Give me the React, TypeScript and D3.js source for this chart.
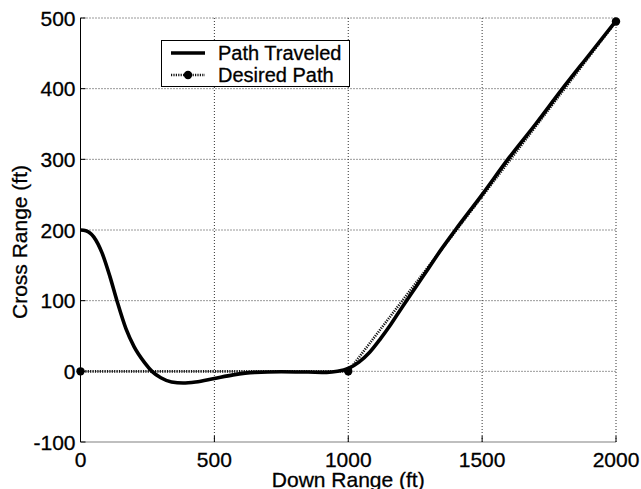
import React from "react";
import * as d3 from "d3";

const W = 641;
const H = 489;

// Down range (ft) vs cross range (ft) of the traveled path
const traveledX = [0, 20, 50, 80, 110, 136, 170, 200, 240, 267, 300, 340, 383, 430, 500, 570, 650, 750, 850, 920, 960, 1000, 1040, 1080, 1120, 1160, 1200, 1250, 1300, 1350, 1400, 1500, 1600, 1700, 1800, 1900, 2000];
const traveledY = [200, 199, 190, 168, 134, 100, 60, 35, 12, 0, -9, -15, -16.5, -15, -10, -5, -1.5, -0.5, -1, -1.5, 0, 4, 13, 27, 46, 67, 90, 118, 146, 174, 200, 250, 302, 350, 400, 448, 496];

// Desired path waypoints
const desiredX = [0, 1000, 2000];
const desiredY = [0, 0, 495];

const xTicks = [0, 500, 1000, 1500, 2000];
const yTicks = [-100, 0, 100, 200, 300, 400, 500];

const legendLabels = ["Path Traveled", "Desired Path"];

const FONT = "'Liberation Sans', Arial, Helvetica, sans-serif";
const textStyle = { fontFamily: FONT, fill: "#000", stroke: "#000", strokeWidth: 0.3 };

export default function App() {
  const left = 80.5;
  const right = 616;
  const top = 18;
  const bottom = 442;

  const x = d3.scaleLinear().domain([0, 2000]).range([left, right]);
  const y = d3.scaleLinear().domain([-100, 500]).range([bottom, top]);

  const traveled = traveledX.map((v, i) => [v, traveledY[i]] as [number, number]);
  const desired = desiredX.map((v, i) => [v, desiredY[i]] as [number, number]);

  const line = d3
    .line<[number, number]>()
    .x((d) => x(d[0]))
    .y((d) => y(d[1]))
    .curve(d3.curveMonotoneX);
  const straight = d3
    .line<[number, number]>()
    .x((d) => x(d[0]))
    .y((d) => y(d[1]));

  const gridStyle = { stroke: "#333", strokeWidth: 1, strokeDasharray: "1,2" };

  const lg = { x: 161.5, y: 40.5, w: 188, h: 46 };

  return (
    <div style={{ position: "absolute", left: 0, top: 0 }}>
      <svg width={W} height={H} style={{ display: "block", background: "#fff" }}>
        {/* grid */}
        {xTicks
          .filter((t) => t !== 0)
          .map((t) => (
            <line key={"gx" + t} x1={x(t)} x2={x(t)} y1={top} y2={bottom} {...gridStyle} />
          ))}
        {yTicks
          .filter((t) => t !== -100)
          .map((t) => (
            <line key={"gy" + t} x1={left} x2={right} y1={y(t)} y2={y(t)} {...gridStyle} />
          ))}

        {/* axes */}
        <line x1={left} x2={left} y1={top} y2={bottom} stroke="#000" strokeWidth={1} />
        <line x1={left} x2={right} y1={bottom} y2={bottom} stroke="#808080" strokeWidth={1.2} />
        {yTicks.map((t) => (
          <line key={"ty" + t} x1={left} x2={left + 5} y1={y(t)} y2={y(t)} stroke="#000" strokeWidth={1} />
        ))}
        {xTicks.map((t) => (
          <line key={"tx" + t} x1={x(t)} x2={x(t)} y1={bottom} y2={bottom - 6} stroke="#000" strokeWidth={1} />
        ))}

        {/* tick labels */}
        {yTicks.map((t) => (
          <text key={"ly" + t} x={left - 5} y={y(t)} dy="0.36em" textAnchor="end" fontSize={21} {...textStyle}>
            {t}
          </text>
        ))}
        {xTicks.map((t) => (
          <text key={"lx" + t} x={x(t)} y={466.5} textAnchor="middle" fontSize={21} {...textStyle}>
            {t}
          </text>
        ))}

        {/* axis titles */}
        <text x={x(1000)} y={487} textAnchor="middle" fontSize={21} {...textStyle}>
          Down Range (ft)
        </text>
        <text
          transform={`translate(27,${(top + bottom) / 2 + 12}) rotate(-90)`}
          textAnchor="middle"
          fontSize={21}
          {...textStyle}
        >
          Cross Range (ft)
        </text>

        {/* desired path */}
        <path
          d={straight(desired) || ""}
          fill="none"
          stroke="#111"
          strokeWidth={2.6}
          strokeDasharray="1.2,1.2"
        />
        {/* traveled path */}
        <path d={line(traveled) || ""} fill="none" stroke="#000" strokeWidth={3.6} strokeLinejoin="round" />
        {desired.map((d, i) => (
          <circle key={"m" + i} cx={x(d[0])} cy={y(d[1])} r={4.2} fill="#000" />
        ))}

        {/* legend */}
        <rect x={lg.x} y={lg.y} width={lg.w} height={lg.h} fill="#fff" stroke="#000" strokeWidth={1} />
        <line x1={171} x2={205} y1={53} y2={53} stroke="#000" strokeWidth={3.6} />
        <line x1={171} x2={205} y1={75} y2={75} stroke="#111" strokeWidth={2.6} strokeDasharray="1.2,1.2" />
        <circle cx={188} cy={75} r={4.2} fill="#000" />
        {legendLabels.map((s, i) => (
          <text key={s} x={218} y={60 + i * 22} fontSize={20} {...textStyle}>
            {s}
          </text>
        ))}
      </svg>
    </div>
  );
}
